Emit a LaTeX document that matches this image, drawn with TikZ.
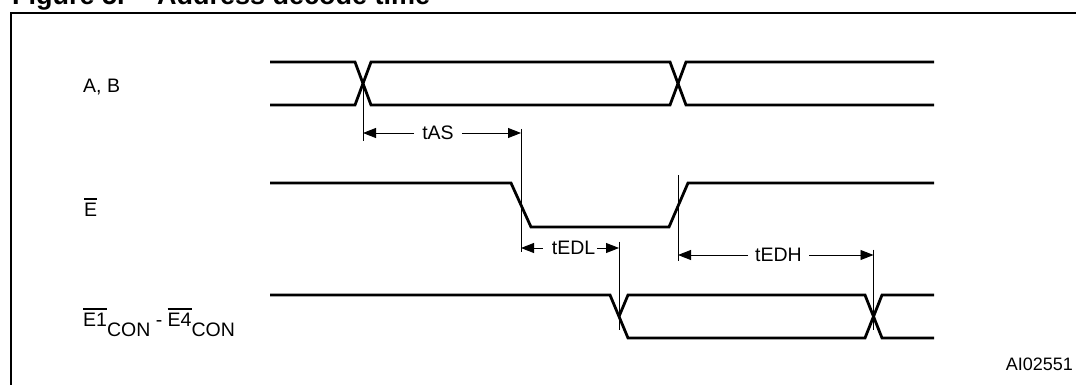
\documentclass[tikz,border=0pt]{standalone}
\usepackage{fontspec}
\setmainfont{Liberation Sans}
\usetikzlibrary{arrows.meta}
\newcommand{\ovbar}[1]{\vbox{\hrule height 1.3pt\kern 3pt\hbox{#1}}}

\begin{document}
\begin{tikzpicture}[x=1pt, y=-1pt, wave/.style={line width=2.8pt}, guide/.style={line width=0.9pt},
        dim tip/.style={guide, -{Triangle[length=13pt,width=10pt]}}, dim label/.style={inner xsep=8pt, inner ysep=0pt},
        title font/.style={font=\bfseries\fontsize{27}{30}\selectfont}]
        \tikzstyle{every node}=[font=\fontsize{19.5}{23}\selectfont, inner sep=0pt]

          \useasboundingbox (0,0) rectangle (1076,385);
          \begin{scope}
            \clip (0,0) rectangle (1076,385);
            \node[title font, anchor=base west] (fig) at (12,4.5) {Figure 5.};
            \node[title font, anchor=base west] (title) at (157,4.5) {Address decode time};
            \draw[line width=2pt] (11,400) |- (1090,13);
          \end{scope}

          \node[anchor=base west] (ab) at (83,93) {A, B};
          \node[anchor=base west] (e) at (84,216) {\ovbar{E}};
          \node[anchor=base west] (econ) at (83,326) {\ovbar{E1}\raisebox{-10pt}{CON} - \ovbar{E4}\raisebox{-10pt}{CON}};
          \node[anchor=base east, font=\fontsize{18}{21}\selectfont] (id) at (1073,370) {AI02551};

          % waveforms
          \draw[wave] (270,62) -- (355,62) -- (371,105) -- (670,105) -- (686,62) -- (934,62);
          \draw[wave] (270,105) -- (355,105) -- (371,62) -- (670,62) -- (686,105) -- (934,105);
          \draw[wave] (270,183) -- (511,183) -- (531,227) -- (669,227) -- (688,183) -- (934,183);
          \draw[wave] (270,295) -- (610,295) -- (628,338) -- (865,338) -- (882,295) -- (934,295);
          \draw[wave] (619,316.5) -- (628,295) -- (865,295) -- (882,338) -- (934,338);

          \coordinate (ab1) at (363,83.5);
          \coordinate (e1) at (521,205);
          \coordinate (con1) at (619,316.5);
          \coordinate (e2) at (678,205);
          \coordinate (con2) at (873.5,316.5);

          \draw[guide] (ab1) -- ++(0,57.5);
          \draw[guide] (e1) ++(0,-76) -- ++(0,123);
          \draw[guide] (con1) ++(0,-75) -- ++(0,88);
          \draw[guide] (e2) ++(0,-30) -- ++(0,86);
          \draw[guide] (con2) ++(0,-67) -- ++(0,80);

          % timings
          \node[dim label] (tas) at (438,133) {tAS};
          \draw[dim tip] (tas) -- (ab1 |- tas);
          \draw[dim tip] (tas) -- (e1 |- tas);

          \node[dim label, inner xsep=2pt] (tedl) at (573.5,248) {tEDL};
          \draw[dim tip] ([xshift=-7pt]tedl.west) -- (e1 |- tedl);
          \draw[dim tip] (tedl) -- (con1 |- tedl);

          \node[dim label, inner xsep=7pt] (tedh) at (778.5,255) {tEDH};
          \draw[dim tip] (tedh) -- (e2 |- tedh);
          \draw[dim tip] (tedh) -- (con2 |- tedh);

\end{tikzpicture}
\end{document}
